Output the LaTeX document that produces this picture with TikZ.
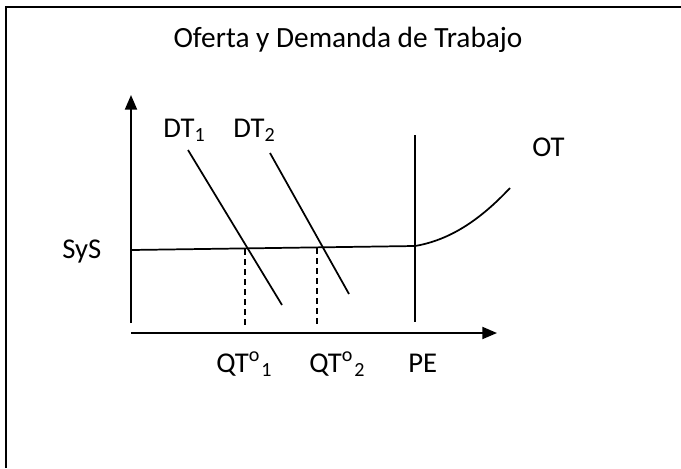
\documentclass[tikz,border=0pt]{standalone}
\usepackage{fontspec}
\setmainfont{Carlito}
\usetikzlibrary{arrows.meta}

\tikzset{
  curve/.style={line width=1.3pt, black},
  axis/.style={line width=1.4pt, -{Triangle[length=11pt,width=9pt]}},
  guide/.style={line width=1.3pt, dash pattern=on 4.5pt off 3pt},
  lbl/.style={anchor=base west, inner sep=0pt, font=\fontsize{21.5}{24}\selectfont}
}

\begin{document}
\begin{tikzpicture}[x=0.75pt, y=-0.75pt]
\useasboundingbox (0,0) rectangle (681,468);
% frame (only top and left edges show)
\draw[line width=1.5pt] (6,468) -- (6,7) -- (681,7);
\node[lbl, anchor=base, font=\fontsize{22}{24}\selectfont] (title) at (348,47) {Oferta y Demanda de Trabajo};

% axes
\coordinate (yfoot) at (131,323);
\coordinate (ytop) at (131,95);
\coordinate (xfoot) at (131,333);
\coordinate (xend) at (497,333);
\draw[axis] (yfoot) -- (ytop);
\draw[axis] (xfoot) -- (xend);

% SyS line and OT curve
\coordinate (sysL) at (131,250);
\coordinate (kink) at (415,246);
\coordinate (otEnd) at (510,188);
\draw[curve] (sysL) -- (kink) .. controls (450,240) and (480,220) .. (otEnd);

% PE limit
\coordinate (peTop) at (415,135);
\coordinate (peBot) at (415,322);
\draw[curve] (peTop) -- (peBot);

% demand lines
\coordinate (dt1a) at (188,150);
\coordinate (dt1b) at (282,305);
\coordinate (dt2a) at (270,153);
\coordinate (dt2b) at (349,294);
\draw[curve] (dt1a) -- (dt1b);
\draw[curve] (dt2a) -- (dt2b);

% equilibrium quantities
\coordinate (q1top) at (245,249);
\coordinate (q1bot) at (245,327);
\coordinate (q2top) at (317,248);
\coordinate (q2bot) at (317,324);
\draw[guide] (q1top) -- (q1bot);
\draw[guide] (q2top) -- (q2bot);

% labels
\node[lbl] (dtone) at (163,137) {DT\textsubscript{1}};
\node[lbl] (dttwo) at (233,137) {DT\textsubscript{2}};
\node[lbl] (ot) at (532,156) {OT};
\node[lbl] (sys) at (62,258) {SyS};
\node[lbl] (qtone) at (216,372) {QT\textsuperscript{o}\kern1pt\textsubscript{1}};
\node[lbl] (qttwo) at (309,372) {QT\textsuperscript{o}\kern1pt\textsubscript{2}};
\node[lbl] (pe) at (408,372) {PE};

\end{tikzpicture}
\end{document}
